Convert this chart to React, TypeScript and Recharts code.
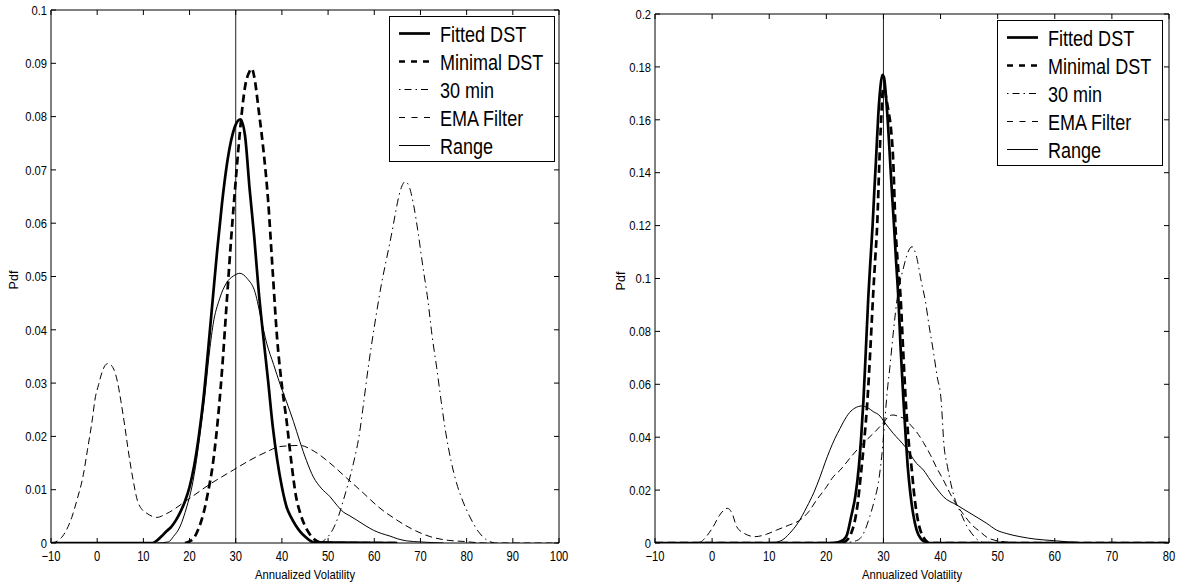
import React from 'react';
import { LineChart, Line, XAxis, YAxis, ReferenceLine, Legend } from 'recharts';

const FONT = '"Liberation Sans", Arial, Helvetica, sans-serif';

// ---------- tick labels ----------
const leftXTicks = [-10, 0, 10, 20, 30, 40, 50, 60, 70, 80, 90, 100];
const leftYTicks = [0, 0.01, 0.02, 0.03, 0.04, 0.05, 0.06, 0.07, 0.08, 0.09, 0.1];
const rightXTicks = [-10, 0, 10, 20, 30, 40, 50, 60, 70, 80];
const rightYTicks = [0, 0.02, 0.04, 0.06, 0.08, 0.1, 0.12, 0.14, 0.16, 0.18, 0.2];

const seriesNames = ['Fitted DST', 'Minimal DST', '30 min', 'EMA Filter', 'Range'];
const referenceVol = 30;

// ---------- left panel data ----------
const lFitX = [-10, 12, 13, 14, 15, 16, 17, 18, 19, 20, 21, 22, 23, 24, 25, 26, 27, 28, 29, 30, 31, 32, 33, 34, 35, 36, 37, 38, 39, 40, 41, 42, 43, 44, 45, 46, 47, 65];
const lFitY = [0, 0, 0.0005, 0.0013, 0.0022, 0.003, 0.0042, 0.0058, 0.0078, 0.0105, 0.0145, 0.02, 0.027, 0.036, 0.0455, 0.055, 0.0635, 0.0705, 0.0755, 0.0785, 0.0795, 0.0765, 0.0665, 0.0575, 0.047, 0.0385, 0.0305, 0.022, 0.0155, 0.0105, 0.0068, 0.0048, 0.0033, 0.0021, 0.0012, 0.0005, 0.0001, 0];

const lMinX = [19, 20, 21, 22, 23, 24, 25, 26, 27, 28, 29, 30, 31, 32, 33, 33.5, 34, 35, 36, 37, 38, 39, 40, 41, 42, 43, 44, 45, 46, 47, 48, 49, 65];
const lMinY = [0, 0.0003, 0.001, 0.0028, 0.0055, 0.0095, 0.0145, 0.022, 0.032, 0.0445, 0.057, 0.068, 0.078, 0.0855, 0.0885, 0.089, 0.0875, 0.081, 0.0737, 0.0644, 0.051, 0.038, 0.0295, 0.023, 0.0155, 0.009, 0.0055, 0.0032, 0.0017, 0.0007, 0.0002, 0, 0];

const l30X = [48, 49, 50, 51, 52.2, 53.3, 54.4, 55.5, 56.8, 57.5, 58.7, 60, 61.6, 62.7, 63.8, 64.5, 65.3, 66, 66.7, 67.5, 68.5, 69.5, 70.5, 71.6, 72.5, 73.5, 74.5, 75.5, 76.6, 77.8, 79.2, 80.7, 82.5, 84.3, 86];
const l30Y = [0, 0.0004, 0.0012, 0.0025, 0.0049, 0.008, 0.0113, 0.015, 0.0206, 0.025, 0.033, 0.0405, 0.0488, 0.0535, 0.0582, 0.0615, 0.065, 0.067, 0.0678, 0.067, 0.0635, 0.0582, 0.052, 0.0456, 0.039, 0.033, 0.0265, 0.0206, 0.0155, 0.0113, 0.0078, 0.0049, 0.0022, 0.0006, 0];

const lEmaX = [-10, -9, -7, -5.5, -4.4, -3, -2.1, -1, -0.5, 0.3, 1, 1.7, 2.4, 3.1, 3.9, 4.5, 5.1, 6, 6.7, 7.7, 8.7, 9.7, 10.7, 12.9, 15, 19.4, 24, 29.5, 33, 36.7, 39.6, 43.9, 47, 50.4, 54, 57.6, 61, 64.9, 68, 72.1, 76, 79.2, 84, 100];
const lEmaY = [0, 0.0002, 0.0019, 0.0048, 0.008, 0.0128, 0.0175, 0.0235, 0.0268, 0.0297, 0.0319, 0.0333, 0.0337, 0.0333, 0.0319, 0.0298, 0.0268, 0.0218, 0.0175, 0.0122, 0.008, 0.0063, 0.0056, 0.0048, 0.0055, 0.008, 0.0108, 0.0137, 0.0155, 0.0171, 0.0181, 0.0183, 0.0172, 0.015, 0.0122, 0.0094, 0.0067, 0.0043, 0.0027, 0.0012, 0.0005, 0.0003, 0, 0];

const lRngX = [13, 15.4, 16.5, 17.9, 19.4, 20.5, 21.5, 22.3, 23.3, 24.2, 25.1, 26.5, 28, 29.5, 30.9, 32.5, 34.2, 35.5, 36.7, 38.2, 39.6, 41, 42.5, 43.9, 45.3, 46.8, 48.5, 50.4, 52, 53.3, 54.5, 56.2, 58, 59.8, 61.5, 63.4, 65, 67, 70, 75];
const lRngY = [0, 0.0002, 0.0012, 0.003, 0.0068, 0.0105, 0.0155, 0.0206, 0.0275, 0.035, 0.041, 0.0458, 0.0488, 0.0501, 0.0506, 0.0496, 0.047, 0.042, 0.0375, 0.0335, 0.0298, 0.0265, 0.0228, 0.019, 0.0155, 0.0124, 0.0103, 0.0087, 0.007, 0.0058, 0.0052, 0.0043, 0.0033, 0.0024, 0.0018, 0.0013, 0.0008, 0.0004, 0.0002, 0];

// ---------- right panel data ----------
const rFitX = [-10, 21, 22, 23, 23.6, 24.35, 25.1, 25.7, 26.1, 26.5, 26.9, 27.35, 27.7, 28.1, 28.4, 28.7, 29.1, 29.5, 29.8, 30.1, 30.4, 30.8, 31.15, 31.5, 31.85, 32.2, 32.6, 33, 33.5, 33.9, 34.25, 34.7, 35.2, 35.8, 36.5, 37.2, 38, 80];
const rFitY = [0, 0, 0.0003, 0.0012, 0.003, 0.01, 0.018, 0.029, 0.04, 0.054, 0.072, 0.093, 0.106, 0.12, 0.133, 0.145, 0.162, 0.173, 0.177, 0.176, 0.17, 0.158, 0.145, 0.132, 0.12, 0.107, 0.093, 0.074, 0.054, 0.04, 0.029, 0.019, 0.011, 0.005, 0.0018, 0.0005, 0, 0];

const rMinX = [-10, 22, 23, 23.8, 24.4, 24.9, 25.5, 26.05, 26.6, 27.2, 27.7, 28.2, 28.55, 28.9, 29.3, 29.6, 29.95, 30.2, 30.5, 30.85, 31.3, 31.7, 32.1, 32.5, 33, 33.45, 33.9, 34.35, 34.9, 35.4, 35.8, 36.3, 36.8, 37.4, 38, 80];
const rMinY = [0, 0, 0.0003, 0.0015, 0.004, 0.0075, 0.015, 0.026, 0.038, 0.054, 0.073, 0.094, 0.107, 0.12, 0.145, 0.16, 0.172, 0.1715, 0.168, 0.1637, 0.157, 0.145, 0.12, 0.106, 0.093, 0.073, 0.054, 0.04, 0.029, 0.018, 0.0115, 0.006, 0.003, 0.001, 0, 0];

const r30X = [22, 24, 25.6, 26.7, 27.6, 28.4, 29.1, 29.5, 29.8, 30.3, 30.7, 31.15, 31.7, 32.5, 33.5, 34.3, 35, 35.7, 36.7, 37.3, 38, 38.7, 39.4, 40.1, 40.6, 41.2, 41.8, 42.6, 43.5, 44.5, 45.5, 46.5, 48];
const r30Y = [0, 0.0003, 0.0012, 0.0045, 0.01, 0.016, 0.0227, 0.029, 0.035, 0.048, 0.058, 0.067, 0.079, 0.094, 0.104, 0.11, 0.112, 0.109, 0.098, 0.092, 0.082, 0.073, 0.063, 0.054, 0.037, 0.029, 0.0225, 0.016, 0.0115, 0.0068, 0.0035, 0.0012, 0];

const rEmaX = [-10, -3, -2.1, -1, 0.2, 1.3, 2.7, 3.5, 4.3, 5.5, 7.5, 9.5, 11.3, 13.5, 15.4, 16.9, 18.3, 19.8, 21.2, 22.4, 24.1, 25.5, 27.3, 28.5, 30, 31, 31.7, 32.7, 33.8, 34.8, 35.8, 37, 38.2, 39.3, 40.5, 41.6, 42.8, 44.2, 45.5, 46.8, 48.1, 50, 52, 55, 80];
const rEmaY = [0, 0, 0.0003, 0.0025, 0.0062, 0.0105, 0.0131, 0.0112, 0.0062, 0.0038, 0.0024, 0.0033, 0.0049, 0.0068, 0.0087, 0.0118, 0.0163, 0.0205, 0.025, 0.0275, 0.032, 0.0355, 0.0395, 0.042, 0.0455, 0.048, 0.0484, 0.0478, 0.0468, 0.0445, 0.042, 0.038, 0.0334, 0.0285, 0.0238, 0.019, 0.0145, 0.0103, 0.0068, 0.0045, 0.0022, 0.0008, 0.0003, 0, 0];

const rRngX = [-10, 10, 12, 13.6, 15, 16.6, 17.8, 18.9, 19.8, 20.6, 21.5, 22.4, 23, 24.1, 25, 26.2, 27.2, 28.2, 29.4, 30, 31.7, 33.8, 35.8, 37, 38.2, 39.9, 40.5, 42.8, 45.7, 48.1, 49.8, 51.5, 53.9, 56.5, 59.7, 62, 64.4, 70, 80];
const rRngY = [0, 0, 0.0008, 0.0037, 0.0075, 0.0137, 0.019, 0.025, 0.0305, 0.035, 0.0395, 0.0433, 0.0458, 0.0494, 0.051, 0.0518, 0.0512, 0.0497, 0.048, 0.0462, 0.0415, 0.0364, 0.0301, 0.0276, 0.0238, 0.019, 0.0175, 0.0144, 0.0106, 0.0074, 0.0049, 0.0036, 0.0024, 0.0015, 0.0009, 0.0005, 0.0002, 0, 0];

// ---------- helpers ----------
const zip = (xs: number[], ys: number[]) => xs.map((x, i) => ({ x, y: ys[i] }));

const leftSeries = [zip(lFitX, lFitY), zip(lMinX, lMinY), zip(l30X, l30Y), zip(lEmaX, lEmaY), zip(lRngX, lRngY)];
const rightSeries = [zip(rFitX, rFitY), zip(rMinX, rMinY), zip(r30X, r30Y), zip(rEmaX, rEmaY), zip(rRngX, rRngY)];

const lineStyles = [
  { w: 2.7, dash: undefined as string | undefined, legendDash: undefined as string | undefined },
  { w: 2.7, dash: '8 4.5', legendDash: '6 6' },
  { w: 1, dash: '8 4 1.5 4', legendDash: '1.5 4 7 4' },
  { w: 1, dash: '7 4', legendDash: '6 6.5' },
  { w: 1, dash: undefined as string | undefined, legendDash: undefined as string | undefined },
];

const TICK_LEN = 5;
const X_MARGIN = 7;
const Y_MARGIN = 4;

const fmtX = (v: number) => (v < 0 ? '\u2212' + Math.abs(v) : String(v));
const fmtY = (v: number) => String(Number(v.toFixed(3)));

// bottom axis: label + inward tick
const XTick = (props: any) => {
  const { x, y, payload } = props;
  const axisY = y - X_MARGIN;
  return (
    <g>
      <line x1={x} x2={x} y1={axisY} y2={axisY - TICK_LEN} stroke="#000" strokeWidth={1} />
      <text transform={`translate(${x},${y + 11}) scale(0.8,1)`} textAnchor="middle" fontSize={14} fontFamily={FONT} fill="#000">
        {fmtX(payload.value)}
      </text>
    </g>
  );
};

// top axis: inward tick only
const TopTick = (props: any) => {
  const { x, y } = props;
  return <line x1={x} x2={x} y1={y} y2={y + TICK_LEN} stroke="#000" strokeWidth={1} />;
};

// left axis: label + inward tick
const YTick = (props: any) => {
  const { x, y, payload } = props;
  const axisX = x + Y_MARGIN;
  return (
    <g>
      <line x1={axisX} x2={axisX + TICK_LEN} y1={y} y2={y} stroke="#000" strokeWidth={1} />
      <text transform={`translate(${x},${y + 4.7}) scale(0.83,1)`} textAnchor="end" fontSize={13.5} fontFamily={FONT} fill="#000">
        {fmtY(payload.value)}
      </text>
    </g>
  );
};

// right axis: inward tick only
const RightTick = (props: any) => {
  const { x, y } = props;
  return <line x1={x} x2={x - TICK_LEN} y1={y} y2={y} stroke="#000" strokeWidth={1} />;
};

const LegendBox = () => (
  <svg width={167} height={147} style={{ display: 'block' }}>
    <rect x={0.5} y={0.5} width={165} height={145} fill="#fff" stroke="#000" strokeWidth={1} />
    {seriesNames.map((name, i) => {
      const cy = 17.5 + 28 * i;
      const s = lineStyles[i];
      return (
        <g key={name}>
          <line x1={10} x2={41} y1={cy} y2={cy} stroke="#000" strokeWidth={s.w} strokeDasharray={s.legendDash} />
          <text transform={`translate(51,${cy + 8}) scale(0.82,1)`} fontSize={22} fontFamily={FONT} fill="#000">
            {name}
          </text>
        </g>
      );
    })}
  </svg>
);

type PanelProps = {
  left: number;
  width: number;
  marginTop: number;
  marginRight: number;
  yAxisWidth: number;
  xDomain: [number, number];
  yDomain: [number, number];
  xTicks: number[];
  yTicks: number[];
  series: { x: number; y: number }[][];
  legendLeft: number;
  legendTop: number;
  pdfX: number;
  pdfDy: number;
};

const Panel = (p: PanelProps) => {
  const H = 587;
  const order = [4, 3, 2, 1, 0];
  return (
    <div style={{ position: 'absolute', left: p.left, top: 0, width: p.width, height: H }}>
      <LineChart width={p.width} height={H} margin={{ top: p.marginTop, right: p.marginRight, bottom: 0, left: 0 }}>
        <XAxis
          xAxisId="b"
          dataKey="x"
          type="number"
          domain={p.xDomain}
          ticks={p.xTicks}
          interval={0}
          allowDataOverflow
          height={44}
          tickSize={0}
          tickLine={false}
          tickMargin={X_MARGIN}
          stroke="#000"
          tick={<XTick />}
          label={{
            content: (lp: any) => {
              const vb = lp.viewBox || {};
              return (
                <text transform={`translate(${vb.x + vb.width / 2},${vb.y + 36}) scale(0.94,1)`} textAnchor="middle" fontSize={12} fontFamily={FONT} fill="#000">
                  Annualized Volatility
                </text>
              );
            },
          }}
        />
        <XAxis
          xAxisId="t"
          orientation="top"
          dataKey="x"
          type="number"
          domain={p.xDomain}
          ticks={p.xTicks}
          interval={0}
          allowDataOverflow
          height={1}
          tickSize={0}
          tickLine={false}
          tickMargin={0}
          tick={<TopTick />}
          stroke="#000"
        />
        <YAxis
          yAxisId="l"
          type="number"
          domain={p.yDomain}
          ticks={p.yTicks}
          interval={0}
          allowDataOverflow
          width={p.yAxisWidth}
          tickSize={0}
          tickLine={false}
          tickMargin={Y_MARGIN}
          stroke="#000"
          tick={<YTick />}
          label={{
            content: (lp: any) => {
              const vb = lp.viewBox || {};
              const cx = vb.x + p.pdfX;
              const cy = vb.y + vb.height / 2 + p.pdfDy;
              return (
                <text transform={`translate(${cx},${cy}) rotate(-90)`} textAnchor="middle" fontSize={12.5} fontFamily={FONT} fill="#000">
                  Pdf
                </text>
              );
            },
          }}
        />
        <YAxis
          yAxisId="r"
          orientation="right"
          type="number"
          domain={p.yDomain}
          ticks={p.yTicks}
          interval={0}
          allowDataOverflow
          width={1}
          tickSize={0}
          tickLine={false}
          tickMargin={0}
          tick={<RightTick />}
          stroke="#000"
        />
        <ReferenceLine x={referenceVol} xAxisId="b" yAxisId="l" stroke="#222" strokeWidth={1} />
        {order.map((i) => (
          <Line
            key={seriesNames[i]}
            xAxisId="b"
            yAxisId="l"
            data={p.series[i]}
            dataKey="y"
            name={seriesNames[i]}
            type="monotone"
            stroke="#000"
            strokeWidth={lineStyles[i].w}
            strokeDasharray={lineStyles[i].dash}
            dot={false}
            activeDot={false}
            isAnimationActive={false}
          />
        ))}
        <Legend
          layout="vertical"
          align="center"
          verticalAlign="middle"
          content={() => <LegendBox />}
          wrapperStyle={{ left: p.legendLeft, top: p.legendTop, width: 167, height: 147 }}
        />
      </LineChart>
    </div>
  );
};

export default function App() {
  return (
    <div style={{ position: 'absolute', left: 0, top: 0, width: 1186, height: 587, background: '#fff' }}>
      <Panel
        left={0}
        width={590}
        marginTop={9}
        marginRight={30}
        yAxisWidth={51}
        xDomain={[-10, 100]}
        yDomain={[0, 0.1]}
        xTicks={leftXTicks}
        yTicks={leftYTicks}
        series={leftSeries}
        legendLeft={389}
        legendTop={16}
        pdfX={17.5}
        pdfDy={3.5}
      />
      <Panel
        left={590}
        width={596}
        marginTop={13}
        marginRight={16}
        yAxisWidth={65}
        xDomain={[-10, 80]}
        yDomain={[0, 0.2]}
        xTicks={rightXTicks}
        yTicks={rightYTicks}
        series={rightSeries}
        legendLeft={407}
        legendTop={20}
        pdfX={35}
        pdfDy={2.5}
      />
    </div>
  );
}
